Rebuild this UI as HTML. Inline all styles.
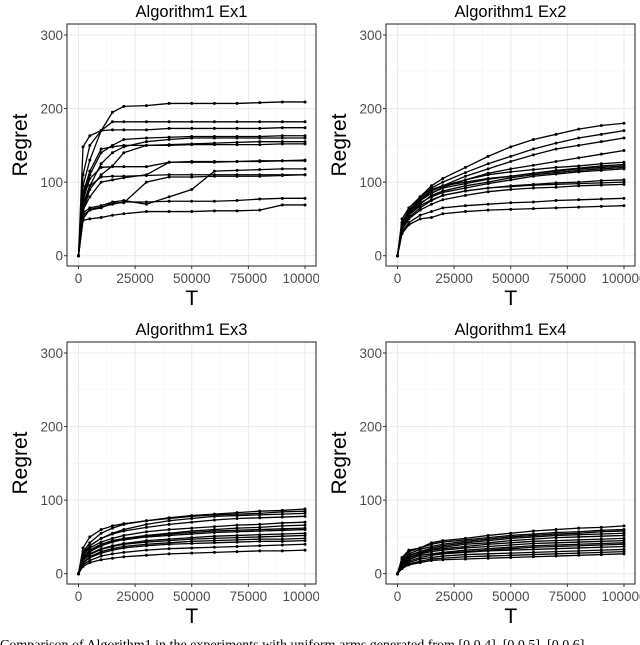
<!DOCTYPE html>
<html><head><meta charset="utf-8"><style>
html,body{margin:0;padding:0;background:#fff;width:640px;height:645px;overflow:hidden;position:relative;font-family:"Liberation Sans",sans-serif}
svg.p{position:absolute;overflow:hidden}
.cap{position:absolute;left:0;top:638px;font:14px "Liberation Serif",serif;color:#000;white-space:nowrap}
</style></head><body>
<div id="root"></div>
<div class="cap">Comparison of Algorithm1 in the experiments with uniform arms generated from [0,0.4], [0,0.5], [0,0.6]</div>
<script>
const xs=[0,2000,5000,10000,15000,20000,30000,40000,50000,60000,70000,80000,90000,100000];
const xTicks=[0,25000,50000,75000,100000];
const xTickLabels=["0","25000","50000","75000","100000"];
const yTicks=[0,100,200,300];
const titles=["Algorithm1 Ex1","Algorithm1 Ex2","Algorithm1 Ex3","Algorithm1 Ex4"];
const ex1=[
[0,148,163,170,195,203,204,207,207,207,207,208,209,209],
[0,95,130,170,182,182,182,182,182,182,182,182,182,182],
[0,110,150,170,171,171,171,173,173,173,173,173,174,174],
[0,80,110,140,150,158,160,161,162,162,162,162,163,163],
[0,65,95,125,140,148,155,158,160,160,160,160,160,160],
[0,85,115,145,148,150,150,151,152,153,154,155,155,155],
[0,60,90,110,122,140,150,150,151,151,151,151,152,152],
[0,75,105,120,121,121,121,127,127,127,128,128,129,130],
[0,70,95,107,108,108,109,110,110,110,110,110,110,110],
[0,62,80,100,103,106,110,127,128,128,128,129,129,129],
[0,58,65,68,73,75,70,80,90,115,116,117,118,118],
[0,50,63,66,70,73,73,74,74,74,75,77,78,78],
[0,48,50,52,55,57,60,60,60,61,61,62,69,69],
[0,55,62,65,72,72,100,107,107,108,108,108,109,110]];
const ex2=[
[0,40,55,80,95,105,120,135,148,158,165,172,177,180],
[0,45,60,80,92,100,113,125,135,145,153,160,165,170],
[0,35,55,75,88,95,108,118,128,137,145,150,155,160],
[0,40,58,75,85,93,103,112,118,123,128,133,138,143],
[0,45,62,78,88,95,103,110,114,117,120,122,125,127],
[0,50,65,80,90,95,100,105,108,112,116,119,122,124],
[0,42,58,75,85,92,98,104,108,112,115,118,120,122],
[0,38,55,70,82,88,95,100,106,110,113,116,118,120],
[0,42,58,72,80,86,92,98,103,108,111,114,116,118],
[0,38,52,65,75,82,88,92,95,97,99,100,102,103],
[0,40,55,68,76,82,88,92,94,96,97,98,99,100],
[0,35,50,62,70,76,82,87,90,92,93,95,96,97],
[0,32,45,55,60,65,68,70,72,73,75,76,77,78],
[0,30,42,50,52,57,60,62,63,64,65,66,67,68]];
const ex3=[
[0,30,42,55,62,67,72,76,79,81,83,85,86,88],
[0,35,50,60,65,68,72,75,78,80,81,82,84,85],
[0,25,38,48,55,60,67,72,75,78,79,80,81,82],
[0,28,38,48,54,58,63,67,70,73,75,76,77,78],
[0,25,35,43,48,52,57,60,62,64,66,67,69,70],
[0,22,32,40,45,48,52,55,58,60,62,63,65,66],
[0,20,30,38,43,47,51,54,56,58,59,60,61,62],
[0,22,32,40,44,46,50,52,54,56,57,58,59,60],
[0,18,27,34,38,41,45,47,49,51,52,53,54,55],
[0,18,26,33,37,40,43,45,47,48,49,50,51,52],
[0,15,23,30,34,37,40,42,44,45,46,47,47,48],
[0,14,22,28,32,35,38,40,41,42,43,44,44,45],
[0,12,18,24,27,29,32,34,35,36,37,38,39,40],
[0,10,15,19,21,23,25,27,28,29,30,31,31,32]];
const ex4=[
[0,20,30,35,42,45,48,52,55,58,60,62,63,65],
[0,22,32,35,40,43,46,49,52,54,56,57,59,60],
[0,18,27,33,37,40,44,47,50,52,54,55,57,58],
[0,15,25,30,35,38,42,45,48,50,52,53,54,55],
[0,16,24,30,33,36,40,42,45,47,49,50,51,52],
[0,14,22,28,32,34,37,40,42,44,45,46,47,48],
[0,15,22,27,30,32,35,37,39,41,42,43,44,45],
[0,12,19,25,27,29,32,34,36,38,39,40,41,42],
[0,13,20,25,27,28,30,32,34,36,37,38,39,40],
[0,10,17,22,25,27,29,31,32,33,34,35,36,37],
[0,9,15,20,22,24,26,27,28,29,30,31,32,33],
[0,8,13,17,20,21,23,24,25,26,27,28,29,30],
[0,7,12,15,18,19,20,21,22,23,24,25,26,27]];
const panels=[ex1,ex2,ex3,ex4];
const NS="http://www.w3.org/2000/svg";
const root=document.getElementById('root');
function mk(t,a,p){const e=document.createElementNS(NS,t);for(const k in a)e.setAttribute(k,a[k]);p.appendChild(e);return e;}
panels.forEach((data,pi)=>{
  const ox=(pi%2)*319, oy=Math.floor(pi/2)*318;
  const svg=mk('svg',{class:'p',width:(pi%2?321:319),height:318,style:`left:${ox}px;top:${oy}px`},root);
  
  
  const bx=67,by=24,bw=249,bh=242;
  const X=v=>78.5+v/100000*226.5;
  const Y=v=>255.7-v/300*220.7;
  mk('rect',{x:bx,y:by,width:bw,height:bh,fill:'#fff'},svg);
  for(let i=0;i<xTicks.length-1;i++){const v=(xTicks[i]+xTicks[i+1])/2;mk('line',{x1:X(v),x2:X(v),y1:by,y2:by+bh,stroke:'#f4f4f4','stroke-width':0.6},svg);}
  for(let i=0;i<yTicks.length-1;i++){const v=(yTicks[i]+yTicks[i+1])/2;mk('line',{x1:bx,x2:bx+bw,y1:Y(v),y2:Y(v),stroke:'#f4f4f4','stroke-width':0.6},svg);}
  xTicks.forEach((v,i)=>{
    mk('line',{x1:X(v),x2:X(v),y1:by,y2:by+bh,stroke:'#ebebeb','stroke-width':1.1},svg);
    mk('line',{x1:X(v),x2:X(v),y1:by+bh,y2:by+bh+3,stroke:'#333','stroke-width':1},svg);
    const t=mk('text',{x:X(v),y:by+bh+17,'text-anchor':'middle','font-size':13.5,fill:'#4d4d4d'},svg);t.textContent=xTickLabels[i];
    
    
  });
  yTicks.forEach(v=>{
    mk('line',{x1:bx,x2:bx+bw,y1:Y(v),y2:Y(v),stroke:'#ebebeb','stroke-width':1.1},svg);
    mk('line',{x1:bx-3,x2:bx,y1:Y(v),y2:Y(v),stroke:'#333','stroke-width':1},svg);
    const t=mk('text',{x:bx-4,y:Y(v)+5,'text-anchor':'end','font-size':13.5,fill:'#4d4d4d'},svg);t.textContent=v;
    
    
  });
  data.forEach((s,si)=>{
    const pts=s.map((v,i)=>X(xs[i])+','+Y(v)).join(' ');
    const pl=mk('polyline',{points:pts,fill:'none',stroke:'#000','stroke-width':1.3},svg);
    
    
    s.forEach((v,i)=>{mk('circle',{cx:X(xs[i]),cy:Y(v),r:1.5,fill:'#000'},svg);});
  });
  mk('rect',{x:bx,y:by,width:bw,height:bh,fill:'none',stroke:'#333','stroke-width':1.1},svg);
  const tt=mk('text',{x:bx+bw/2,y:17,'text-anchor':'middle','font-size':16.5,fill:'#000'},svg);tt.textContent=titles[pi];
  
  
  const xl=mk('text',{x:X(50000),y:305,'text-anchor':'middle','font-size':21,fill:'#000'},svg);xl.textContent='T';
  
  
  const yl=mk('text',{x:0,y:0,'text-anchor':'middle','font-size':21,fill:'#000',transform:`translate(27,${by+bh/2}) rotate(-90)`},svg);yl.textContent='Regret';
  
  
});
</script>
</body></html>
